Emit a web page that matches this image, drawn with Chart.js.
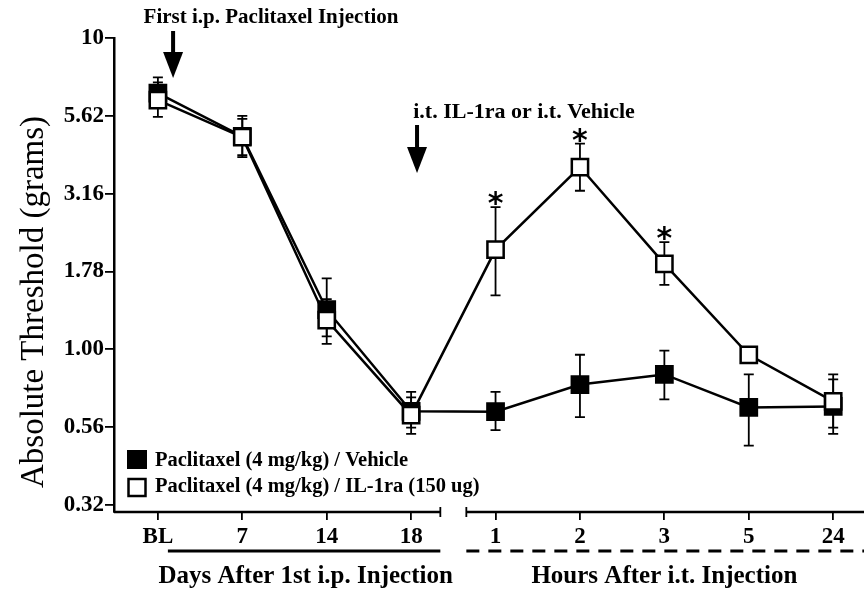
<!DOCTYPE html>
<html>
<head>
<meta charset="utf-8">
<script src="https://cdn.jsdelivr.net/npm/chart.js@4.4.1/dist/chart.umd.min.js"></script>
<style>
  html, body { margin: 0; padding: 0; background: #fff; }
</style>
</head>
<body>
<canvas id="chart" width="864" height="595"></canvas>
<script>
const categories = ['BL', '7', '14', '18', '1', '2', '3', '5', '24'];

// Paclitaxel / Vehicle (filled squares)
const vehicle   = [6.65, 4.83, 1.34, 0.632, 0.63, 0.77, 0.83, 0.65, 0.655];
const vehicleHi = [7.47, 5.62, 1.69, 0.73, 0.73, 0.96, 0.99, 0.83, 0.83];
const vehicleLo = [6.0, 4.2, 1.1, 0.56, 0.55, 0.605, 0.69, 0.49, 0.535];

// Paclitaxel / IL-1ra (open squares)
const il1ra   = [6.32, 4.8, 1.24, 0.614, 2.09, 3.85, 1.88, 0.96, 0.68];
const il1raHi = [7.2, 5.5, 1.45, 0.7, 2.86, 4.58, 2.21, 0.96, 0.8];
const il1raLo = [5.58, 4.14, 1.04, 0.535, 1.49, 3.23, 1.61, 0.96, 0.56];
const il1raSig = ['', '', '', '', '*', '*', '*', '', ''];

const yTickValues = [0.3162, 0.5623, 1, 1.778, 3.162, 5.623, 10];
const yTickLabels = ['0.32', '0.56', '1.00', '1.78', '3.16', '5.62', '10'];

const serif = "'Liberation Serif', 'Times New Roman', serif";

const toXY = arr => arr.map((v, i) => ({ x: i, y: v }));

// error bars, drawn under the markers
const errorBars = {
  id: 'errorBars',
  beforeDatasetsDraw(chart) {
    const { ctx, scales: { x, y } } = chart;
    const sets = [[vehicle, vehicleHi, vehicleLo], [il1ra, il1raHi, il1raLo]];
    ctx.save();
    ctx.strokeStyle = '#000';
    ctx.lineWidth = 1.8;
    sets.forEach(([vals, hi, lo]) => {
      vals.forEach((v, i) => {
        const px = x.getPixelForValue(i);
        [hi[i], lo[i]].forEach(e => {
          if (e == null || e === v) return;
          const py = y.getPixelForValue(e);
          ctx.beginPath();
          ctx.moveTo(px, y.getPixelForValue(v));
          ctx.lineTo(px, py);
          ctx.moveTo(px - 5, py);
          ctx.lineTo(px + 5, py);
          ctx.stroke();
        });
      });
    });
    ctx.restore();
  }
};

function arrow(ctx, x, top, bottom) {
  ctx.fillRect(x - 2, top, 4, bottom - top - 24);
  ctx.beginPath();
  ctx.moveTo(x - 10, bottom - 26);
  ctx.lineTo(x + 10, bottom - 26);
  ctx.lineTo(x, bottom);
  ctx.closePath();
  ctx.fill();
}

const extras = {
  id: 'extras',
  afterDraw(chart) {
    const { ctx, chartArea: a, scales: { x, y } } = chart;
    ctx.save();
    ctx.fillStyle = '#000';
    ctx.strokeStyle = '#000';

    // broken x axis
    const brk = x.getPixelForValue(3.5);
    const bL = brk - 13, bR = brk + 13;
    ctx.lineWidth = 2.5;
    ctx.beginPath();
    ctx.moveTo(a.left, a.bottom);
    ctx.lineTo(bL, a.bottom);
    ctx.moveTo(bR, a.bottom);
    ctx.lineTo(a.right, a.bottom);
    ctx.stroke();
    ctx.lineWidth = 1.8;
    ctx.beginPath();
    ctx.moveTo(bL, a.bottom - 5);
    ctx.lineTo(bL, a.bottom + 5);
    ctx.moveTo(bR, a.bottom - 5);
    ctx.lineTo(bR, a.bottom + 5);
    ctx.stroke();

    // group brackets
    const gy = a.bottom + 39;
    ctx.lineWidth = 3;
    ctx.beginPath();
    ctx.moveTo(x.getPixelForValue(0) + 10, gy);
    ctx.lineTo(bL, gy);
    ctx.stroke();
    ctx.setLineDash([13, 9]);
    ctx.beginPath();
    ctx.moveTo(bR, gy);
    ctx.lineTo(a.right, gy);
    ctx.stroke();
    ctx.setLineDash([]);

    ctx.font = 'bold 25px ' + serif;
    ctx.textAlign = 'center';
    ctx.textBaseline = 'middle';
    ctx.fillText('Days After 1st i.p. Injection', x.getPixelForValue(1.75), gy + 26);
    ctx.fillText('Hours After i.t. Injection', x.getPixelForValue(6), gy + 26);

    // y title
    ctx.save();
    ctx.translate(43, 302);
    ctx.rotate(-Math.PI / 2);
    ctx.textBaseline = 'alphabetic';
    ctx.font = '33px ' + serif;
    ctx.fillText('Absolute Threshold (grams)', 0, 0);
    ctx.restore();

    // annotations
    ctx.font = 'bold 21px ' + serif;
    ctx.fillText('First i.p. Paclitaxel Injection', 271, 18);
    ctx.font = 'bold 22px ' + serif;
    ctx.fillText('i.t. IL-1ra or i.t. Vehicle', 524, 112);
    arrow(ctx, x.getPixelForValue(0.18), 31, 78);
    arrow(ctx, x.getPixelForValue(3.07), 125, 173);

    // significance marks
    ctx.font = 'bold 30px DejaVu Sans';
    ctx.textBaseline = 'alphabetic';
    il1raSig.forEach((s, i) => {
      if (!s) return;
      ctx.fillText(s, x.getPixelForValue(i), y.getPixelForValue(il1raHi[i]) + 6);
    });

    // legend
    ctx.textAlign = 'left';
    ctx.textBaseline = 'middle';
    ctx.font = 'bold 20.5px ' + serif;
    ctx.fillRect(127, 450, 20, 19);
    ctx.lineWidth = 2.5;
    ctx.strokeRect(128.5, 479, 17, 17);
    ctx.fillText('Paclitaxel (4 mg/kg) / Vehicle', 155, 461);
    ctx.fillText('Paclitaxel (4 mg/kg) / IL-1ra (150 ug)', 155, 487);
    ctx.restore();
  }
};

new Chart(document.getElementById('chart').getContext('2d'), {
  type: 'line',
  data: {
    datasets: [
      {
        label: 'Paclitaxel (4 mg/kg) / IL-1ra (150 ug)',
        data: toXY(il1ra),
        borderColor: '#000',
        borderWidth: 2.5,
        pointStyle: 'rect',
        pointRadius: 11.5,
        pointBackgroundColor: '#fff',
        pointBorderColor: '#000',
        pointBorderWidth: 2.5,
        tension: 0,
        order: 1
      },
      {
        label: 'Paclitaxel (4 mg/kg) / Vehicle',
        data: toXY(vehicle),
        borderColor: '#000',
        borderWidth: 2.5,
        pointStyle: 'rect',
        pointRadius: 11.5,
        pointBackgroundColor: '#000',
        pointBorderColor: '#000',
        pointBorderWidth: 2.5,
        tension: 0,
        order: 2
      }
    ]
  },
  options: {
    responsive: false,
    animation: false,
    layout: { autoPadding: false, padding: { top: 38, right: 0, left: 0, bottom: 0 } },
    plugins: { legend: { display: false }, tooltip: { enabled: false } },
    scales: {
      x: {
        type: 'linear',
        min: -0.52,
        max: 8.365,
        afterBuildTicks: s => { s.ticks = categories.map((c, i) => ({ value: i })); },
        afterFit: s => { s.height = 83; s.paddingLeft = 0; s.paddingRight = 0; },
        border: { display: false },
        grid: { drawOnChartArea: false, drawTicks: true, tickLength: 8, color: '#000', lineWidth: 1.8 },
        ticks: {
          color: '#000',
          padding: 3,
          maxRotation: 0,
          font: { family: serif, size: 23, weight: 'bold' },
          callback: (v, i) => categories[i]
        }
      },
      y: {
        type: 'logarithmic',
        min: yTickValues[0],
        max: yTickValues[yTickValues.length - 1],
        afterBuildTicks: s => { s.ticks = yTickValues.map(v => ({ value: v })); },
        afterFit: s => { s.width = 114; },
        border: { display: true, color: '#000', width: 2.5 },
        grid: { drawOnChartArea: false, drawTicks: true, tickLength: 9, color: '#000', lineWidth: 1.8 },
        ticks: {
          color: '#000',
          padding: 1,
          font: { family: serif, size: 23, weight: 'bold' },
          callback: (v, i) => yTickLabels[i]
        }
      }
    }
  },
  plugins: [errorBars, extras]
});
</script>
</body>
</html>
